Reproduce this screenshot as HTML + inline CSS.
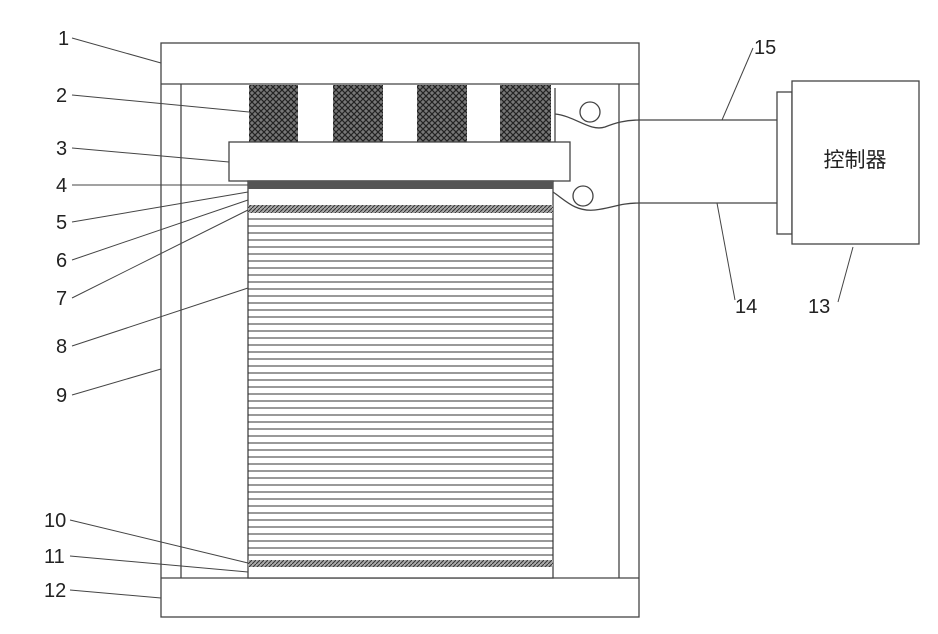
<!DOCTYPE html>
<html><head><meta charset="utf-8"><style>
html,body{margin:0;padding:0;background:#fff;}
svg{display:block;}
text{font-family:"Liberation Sans","Noto Sans CJK SC",sans-serif;fill:#222;}
</style></head><body>
<svg width="938" height="634" viewBox="0 0 938 634" xmlns="http://www.w3.org/2000/svg">
<defs>
<pattern id="coil" width="6" height="6" patternUnits="userSpaceOnUse">
<rect width="6" height="6" fill="#777"/>
<path d="M0 0L3 3L6 0M0 6L3 3L6 6" stroke="#222" stroke-width="1.2" fill="none"/>
</pattern>
<pattern id="hatch" width="4" height="4" patternUnits="userSpaceOnUse">
<rect width="4" height="4" fill="#aaa"/>
<path d="M0 4L4 0" stroke="#333" stroke-width="1"/>
</pattern>
</defs>
<g fill="none" stroke="#444" stroke-width="1.3">
<!-- frame -->
<rect x="161" y="43" width="478" height="574" fill="#fff"/>
<line x1="161" y1="84" x2="639" y2="84"/>
<line x1="161" y1="578" x2="639" y2="578"/>
<line x1="181" y1="84" x2="181" y2="578"/>
<line x1="619" y1="84" x2="619" y2="578"/>
<!-- coils -->
<rect x="249" y="85" width="49" height="57" fill="url(#coil)" stroke="none"/>
<rect x="333" y="85" width="50" height="57" fill="url(#coil)" stroke="none"/>
<rect x="417" y="85" width="50" height="57" fill="url(#coil)" stroke="none"/>
<rect x="500" y="85" width="51" height="57" fill="url(#coil)" stroke="none"/>
<line x1="555" y1="88" x2="555" y2="142"/>
<!-- plate 3 -->
<rect x="229" y="142" width="341" height="39" fill="#fff"/>
<!-- stack -->
<rect x="248" y="181" width="305" height="397" fill="#fff"/>
<rect x="248" y="181" width="305" height="8" fill="#555" stroke="none"/>
<rect x="248" y="205" width="305" height="8" fill="url(#hatch)" stroke="none"/>
<rect x="248" y="560" width="305" height="7" fill="url(#hatch)" stroke="none"/>
<g stroke="#333" stroke-width="1">
<line x1="248" y1="219" x2="553" y2="219"/><line x1="248" y1="226" x2="553" y2="226"/>
<line x1="248" y1="233" x2="553" y2="233"/><line x1="248" y1="240" x2="553" y2="240"/>
<line x1="248" y1="247" x2="553" y2="247"/><line x1="248" y1="254" x2="553" y2="254"/>
<line x1="248" y1="261" x2="553" y2="261"/><line x1="248" y1="268" x2="553" y2="268"/>
<line x1="248" y1="275" x2="553" y2="275"/><line x1="248" y1="282" x2="553" y2="282"/>
<line x1="248" y1="289" x2="553" y2="289"/><line x1="248" y1="296" x2="553" y2="296"/>
<line x1="248" y1="303" x2="553" y2="303"/><line x1="248" y1="310" x2="553" y2="310"/>
<line x1="248" y1="317" x2="553" y2="317"/><line x1="248" y1="324" x2="553" y2="324"/>
<line x1="248" y1="331" x2="553" y2="331"/><line x1="248" y1="338" x2="553" y2="338"/>
<line x1="248" y1="345" x2="553" y2="345"/><line x1="248" y1="352" x2="553" y2="352"/>
<line x1="248" y1="359" x2="553" y2="359"/><line x1="248" y1="366" x2="553" y2="366"/>
<line x1="248" y1="373" x2="553" y2="373"/><line x1="248" y1="380" x2="553" y2="380"/>
<line x1="248" y1="387" x2="553" y2="387"/><line x1="248" y1="394" x2="553" y2="394"/>
<line x1="248" y1="401" x2="553" y2="401"/><line x1="248" y1="408" x2="553" y2="408"/>
<line x1="248" y1="415" x2="553" y2="415"/><line x1="248" y1="422" x2="553" y2="422"/>
<line x1="248" y1="429" x2="553" y2="429"/><line x1="248" y1="436" x2="553" y2="436"/>
<line x1="248" y1="443" x2="553" y2="443"/><line x1="248" y1="450" x2="553" y2="450"/>
<line x1="248" y1="457" x2="553" y2="457"/><line x1="248" y1="464" x2="553" y2="464"/>
<line x1="248" y1="471" x2="553" y2="471"/><line x1="248" y1="478" x2="553" y2="478"/>
<line x1="248" y1="485" x2="553" y2="485"/><line x1="248" y1="492" x2="553" y2="492"/>
<line x1="248" y1="499" x2="553" y2="499"/><line x1="248" y1="506" x2="553" y2="506"/>
<line x1="248" y1="513" x2="553" y2="513"/><line x1="248" y1="520" x2="553" y2="520"/>
<line x1="248" y1="527" x2="553" y2="527"/><line x1="248" y1="534" x2="553" y2="534"/>
<line x1="248" y1="541" x2="553" y2="541"/><line x1="248" y1="548" x2="553" y2="548"/>
<line x1="248" y1="555" x2="553" y2="555"/>
</g>
<!-- circles and wires -->
<circle cx="590" cy="112" r="10"/>
<circle cx="583" cy="196" r="10"/>
<path d="M555 114 C575 116 590 132 605 127 C615 123 625 120 640 120 L777 120"/>
<path d="M553 192 C565 200 575 212 595 210 C612 208 620 203 640 203 L777 203"/>
<!-- controller -->
<rect x="777" y="92" width="15" height="142" fill="#fff"/>
<rect x="792" y="81" width="127" height="163" fill="#fff"/>
<!-- leaders -->
<g stroke-width="1">
<line x1="72" y1="38" x2="161" y2="63"/>
<line x1="72" y1="95" x2="249" y2="112"/>
<line x1="72" y1="148" x2="229" y2="162"/>
<line x1="72" y1="185" x2="248" y2="185"/>
<line x1="72" y1="222" x2="248" y2="192"/>
<line x1="72" y1="260" x2="248" y2="200"/>
<line x1="72" y1="298" x2="248" y2="210"/>
<line x1="72" y1="346" x2="248" y2="288"/>
<line x1="72" y1="395" x2="161" y2="369"/>
<line x1="70" y1="520" x2="248" y2="563"/>
<line x1="70" y1="556" x2="248" y2="572"/>
<line x1="70" y1="590" x2="161" y2="598"/>
<line x1="753" y1="48" x2="722" y2="120"/>
<line x1="717" y1="203" x2="735" y2="300"/>
<line x1="853" y1="247" x2="838" y2="302"/>
</g>
</g>
<g font-size="20">
<text x="58" y="45">1</text>
<text x="56" y="102">2</text>
<text x="56" y="155">3</text>
<text x="56" y="192">4</text>
<text x="56" y="229">5</text>
<text x="56" y="267">6</text>
<text x="56" y="305">7</text>
<text x="56" y="353">8</text>
<text x="56" y="402">9</text>
<text x="44" y="527">10</text>
<text x="44" y="563">11</text>
<text x="44" y="597">12</text>
<text x="754" y="54">15</text>
<text x="735" y="313">14</text>
<text x="808" y="313">13</text>
</g>
<text x="855" y="167" font-size="21" text-anchor="middle">控制器</text>
</svg>
</body></html>
